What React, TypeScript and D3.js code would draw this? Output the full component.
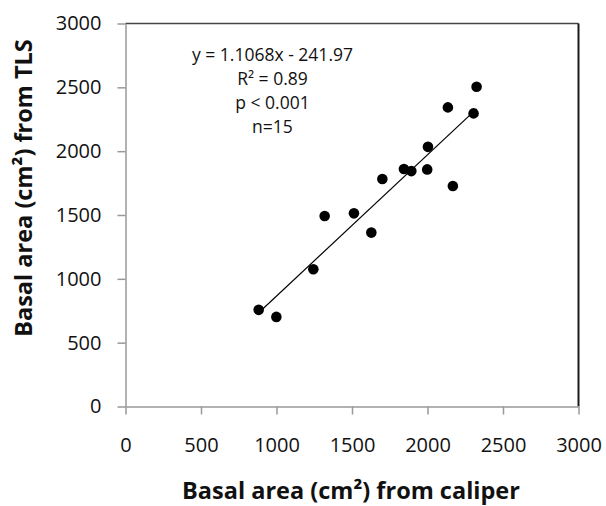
import React, { useEffect, useRef } from "react";
import * as d3 from "d3";

// caliper (x) vs TLS (y) basal area, cm²
const caliper = [2325, 2135, 2305, 2003, 1844, 1893, 1998, 1701, 2168, 1319, 1513, 1628, 1244, 882, 999];
const tls = [2504, 2343, 2296, 2034, 1860, 1844, 1857, 1782, 1727, 1492, 1513, 1362, 1075, 757, 702];
const xTicks = [0, 500, 1000, 1500, 2000, 2500, 3000];
const yTicks = [0, 500, 1000, 1500, 2000, 2500, 3000];
const fitSlope = 1.1068;
const fitIntercept = -241.97;
const statLines = ["y = 1.1068x - 241.97", "R² = 0.89", "p < 0.001", "n=15"];

const App = () => {
  const svgRef = useRef<SVGSVGElement>(null);

  useEffect(() => {
    const W = 606;
    const H = 506;
    const svg = d3.select(svgRef.current).attr("width", W).attr("height", H);
    svg.selectAll("*").remove();

    const x = d3.scaleLinear().domain([0, 3000]).range([125.5, 578.5]);
    const y = d3.scaleLinear().domain([0, 3000]).range([406.5, 23.5]);
    const font = "Open Sans, sans-serif";

    // frame: top/right dark
    svg.append("line")
      .attr("x1", x(0)).attr("x2", x(3000)).attr("y1", y(3000)).attr("y2", y(3000))
      .attr("stroke", "#444").attr("stroke-width", 1.5);
    svg.append("line")
      .attr("x1", x(3000)).attr("x2", x(3000)).attr("y1", y(3000)).attr("y2", y(0))
      .attr("stroke", "#1a1a1a").attr("stroke-width", 2);

    // axes
    const fmt = d3.format("d");
    const xAxis = svg.append("g")
      .attr("transform", `translate(0,${y(0)})`)
      .call(d3.axisBottom(x).tickValues(xTicks).tickFormat(fmt).tickSize(8).tickSizeOuter(0).tickPadding(23));
    const yAxis = svg.append("g")
      .attr("transform", `translate(${x(0)},0)`)
      .call(d3.axisLeft(y).tickValues(yTicks).tickFormat(fmt).tickSize(8).tickSizeOuter(0).tickPadding(16));
    [xAxis, yAxis].forEach((g) => {
      g.select(".domain").attr("stroke", "#999").attr("stroke-width", 1.5);
      g.selectAll(".tick line").attr("stroke", "#999").attr("stroke-width", 1.5);
      g.selectAll(".tick text")
        .attr("fill", "#111")
        .style("font-family", font)
        .style("font-size", "20px");
    });

    // trend line over the data range
    const [xmin, xmax] = d3.extent(caliper) as [number, number];
    svg.append("line")
      .attr("x1", x(xmin)).attr("y1", y(fitSlope * xmin + fitIntercept))
      .attr("x2", x(xmax)).attr("y2", y(fitSlope * xmax + fitIntercept))
      .attr("stroke", "#000").attr("stroke-width", 1.2);

    // points
    svg.selectAll(".pt")
      .data(caliper.map((c, i) => [c, tls[i]]))
      .join("circle")
      .attr("class", "pt")
      .attr("cx", (d) => x(d[0]))
      .attr("cy", (d) => y(d[1]))
      .attr("r", 5.3)
      .attr("fill", "#000");

    // equation block
    svg.selectAll(".stat")
      .data(statLines)
      .join("text")
      .attr("class", "stat")
      .attr("x", 272.5)
      .attr("y", (d, i) => 61 + i * 24)
      .attr("text-anchor", "middle")
      .style("font-family", font)
      .style("font-size", "17.5px")
      .attr("fill", "#111")
      .text((d) => d);

    // axis titles
    svg.append("text")
      .attr("x", 351)
      .attr("y", 499)
      .attr("text-anchor", "middle")
      .style("font-family", font)
      .style("font-weight", "bold")
      .style("font-size", "23.5px")
      .attr("fill", "#111")
      .text("Basal area (cm²) from caliper");

    svg.append("text")
      .attr("transform", `translate(32,188) rotate(-90)`)
      .attr("text-anchor", "middle")
      .style("font-family", font)
      .style("font-weight", "bold")
      .style("font-size", "23.5px")
      .attr("fill", "#111")
      .text("Basal area (cm²) from TLS");
  }, []);

  return (
    <div style={{ position: "absolute", left: 0, top: 0 }}>
      <svg ref={svgRef} style={{ display: "block", background: "#fff" }} />
    </div>
  );
};

export default App;
